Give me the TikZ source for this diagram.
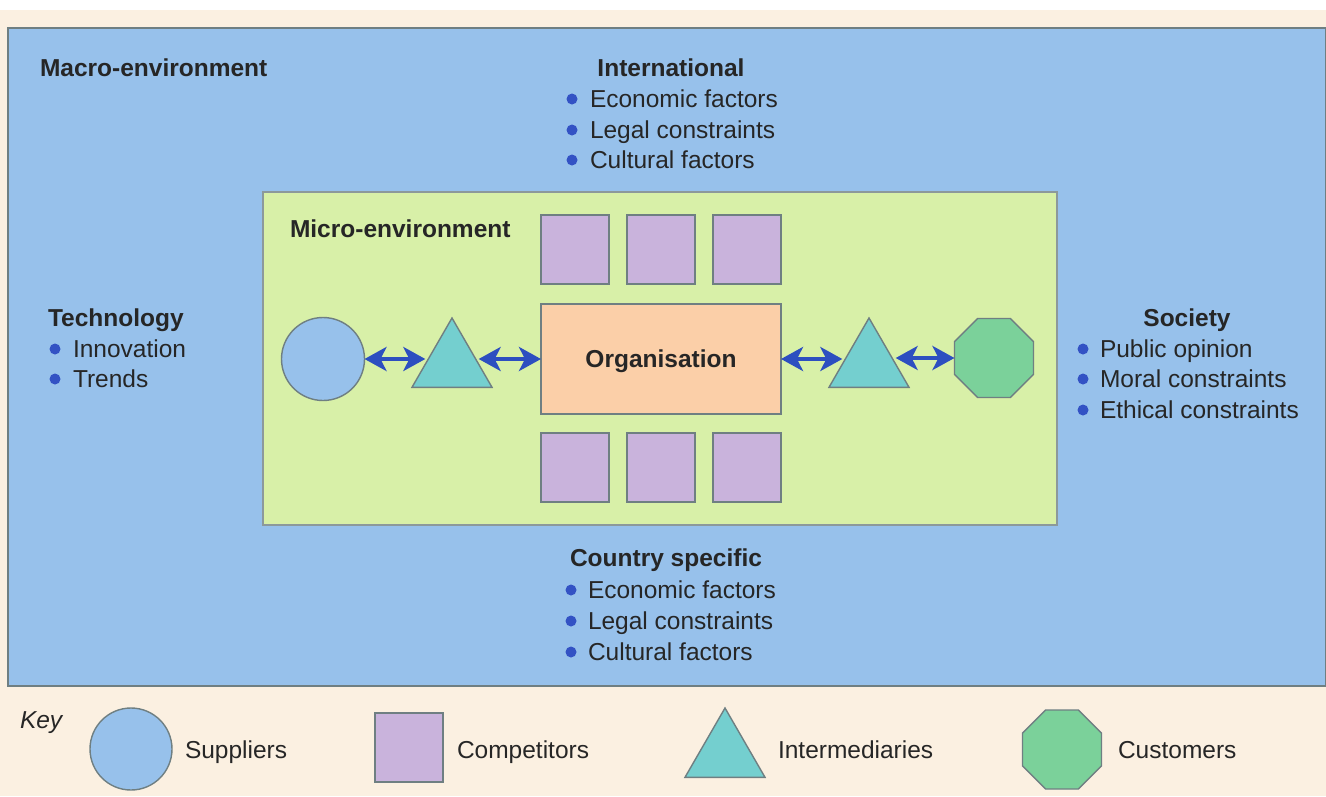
\documentclass[tikz,border=0pt]{standalone}
\usepackage{fontspec}
\setmainfont{Liberation Sans}
\usetikzlibrary{shapes.geometric,arrows.meta}
\definecolor{cream}{HTML}{FBF0E1}
\definecolor{macro}{HTML}{97C1EB}
\definecolor{micro}{HTML}{D8F0A8}
\definecolor{orgc}{HTML}{FBCFA8}
\definecolor{compc}{HTML}{C9B3DC}
\definecolor{interc}{HTML}{74CFCF}
\definecolor{custc}{HTML}{7BD19A}
\definecolor{supc}{HTML}{97C1EB}
\definecolor{edgec}{HTML}{6F7F82}
\definecolor{textc}{HTML}{262626}
\definecolor{bulc}{HTML}{3352C4}
\definecolor{arrc}{HTML}{2D4FC0}
\begin{document}
\begin{tikzpicture}[x=1pt,y=-1pt,
  txt/.style={font=\fontsize{24.5}{30}\selectfont, text=textc, inner sep=0pt, outer sep=0pt, text height=17pt, text depth=5pt, yshift=-2pt},
  hd/.style={txt, font=\fontsize{24.5}{30}\selectfont\bfseries},
  shp/.style={draw=edgec, line width=1.4pt, inner sep=0pt, outer sep=0pt},
  comp/.style={shp, rectangle, fill=compc, minimum width=68pt, minimum height=69pt},
  inter/.style={shp, regular polygon, regular polygon sides=3, fill=interc, minimum size=92.4pt},
  cust/.style={shp, regular polygon, regular polygon sides=8, fill=custc, minimum size=85.5pt},
  sup/.style={shp, circle, fill=supc, minimum size=83pt},
  arr/.style={draw=arrc, line width=4pt, {Stealth[length=22pt,width=24pt,inset=6pt]}-{Stealth[length=22pt,width=24pt,inset=6pt]}},
  bul/.style={fill=bulc}
]
% backgrounds
\useasboundingbox (0,0) rectangle (1326,796);
\fill[white] (0,0) rectangle (1326,10);
\fill[cream] (0,10) rectangle (1326,796);
\node[draw=edgec, line width=2pt, fill=macro, rectangle, minimum width=1318pt, minimum height=658pt, inner sep=0pt] (macro) at (667,357) {};
\node[draw=edgec!80, line width=1.4pt, fill=micro, rectangle, minimum width=794pt, minimum height=333pt, inner sep=0pt] (micro) at (660,358.5) {};

% labels
\node[hd, anchor=west] (macrolbl) at (40,68) {Macro-environment};
\node[hd, anchor=west] (microlbl) at (290,229) {Micro-environment};
\node[hd] (intl) at (671,68) {International};
\node[hd, anchor=west] (tech) at (48,318) {Technology};
\node[hd] (soc) at (1187,318) {Society};
\node[hd] (ctry) at (666,558) {Country specific};

% lists
\foreach \t/\y [count=\i] in {Economic factors/99, Legal constraints/130, Cultural factors/160}{
  \fill[bul] (572,\y) circle (5.5pt);
  \node[txt, anchor=west] (intl\i) at (590,\y) {\t};
}
\foreach \t/\y [count=\i] in {Innovation/349, Trends/379}{
  \fill[bul] (55,\y) circle (5.5pt);
  \node[txt, anchor=west] (tech\i) at (73,\y) {\t};
}
\foreach \t/\y [count=\i] in {Public opinion/349, Moral constraints/379, Ethical constraints/410}{
  \fill[bul] (1083,\y) circle (5.5pt);
  \node[txt, anchor=west] (soc\i) at (1100,\y) {\t};
}
\foreach \t/\y [count=\i] in {Economic factors/590, Legal constraints/621, Cultural factors/652}{
  \fill[bul] (571,\y) circle (5.5pt);
  \node[txt, anchor=west] (ctry\i) at (588,\y) {\t};
}

% micro environment
\node[shp, rectangle, fill=orgc, minimum width=240pt, minimum height=110pt] (org) at (661,359) {};
\node[hd] (orglbl) at (org.center) {Organisation};
\node[comp] (c1) at (575,249.5) {};
\node[comp] (c2) at (661,249.5) {};
\node[comp] (c3) at (747,249.5) {};
\node[comp] (c4) at (575,467.5) {};
\node[comp] (c5) at (661,467.5) {};
\node[comp] (c6) at (747,467.5) {};
\node[sup] (sup) at (323,359) {};
\node[inter] (triL) at (452,364.2) {};
\node[inter] (triR) at (869,364.2) {};
\node[cust] (cust) at (994,358) {};

\draw[arr] (sup.east) -- (sup.east -| triL.west);
\draw[arr] (triL.east |- org.west) -- (org.west);
\draw[arr] (org.east) -- (org.east -| triR.west);
\draw[arr] (triR.east |- cust.west) -- (cust.west);

% key
\node[txt, anchor=west, font=\fontsize{24.5}{30}\selectfont\itshape] (key) at (20,720) {Key};
\node[sup, minimum size=82pt] (ksup) at (131,749) {};
\node[txt, anchor=west] (ksupl) at (185,750) {Suppliers};
\node[comp] (kcomp) at (409,747.5) {};
\node[txt, anchor=west] (kcompl) at (457,750) {Competitors};
\node[inter] (kint) at (725,754.2) {};
\node[txt, anchor=west] (kintl) at (778,750) {Intermediaries};
\node[cust] (kcust) at (1062,749.5) {};
\node[txt, anchor=west] (kcustl) at (1118,750) {Customers};
\end{tikzpicture}
\end{document}
